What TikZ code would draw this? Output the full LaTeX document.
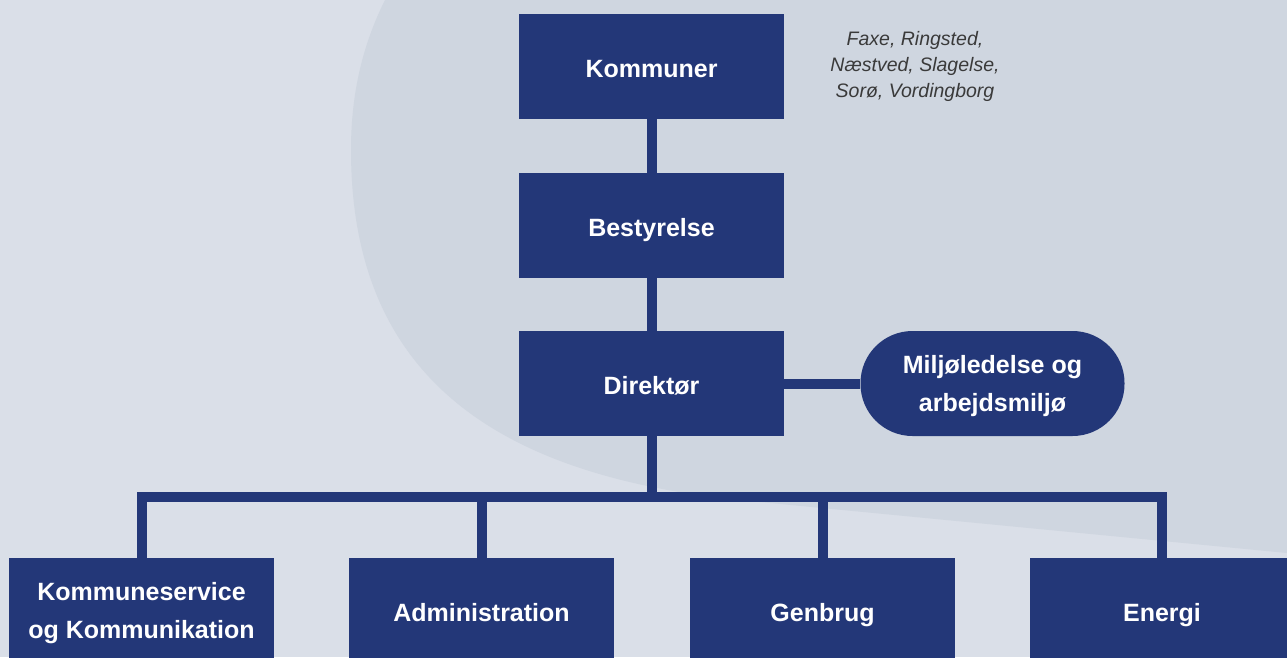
\documentclass[tikz,border=0pt]{standalone}
\usepackage{fontspec}
\setmainfont{Liberation Sans}

\definecolor{navy}{HTML}{233778}
\definecolor{bglight}{HTML}{DADFE8}
\definecolor{bgdark}{HTML}{CFD6E0}
\definecolor{notegray}{HTML}{3A3A3A}

\begin{document}
\begin{tikzpicture}[x=1pt, y=-1pt,
    unit/.style={fill=navy, text=white, font=\fontsize{25}{38}\selectfont\bfseries,
        align=center, minimum width=265pt, minimum height=105pt, inner sep=0pt,
        text height=21pt, text depth=0pt},
    twoline/.style={text height=, text depth=-3pt},
    pill/.style={unit, twoline, minimum width=264pt, rounded corners=52pt},
    link/.style={navy, line width=10pt}]

% Background
\useasboundingbox (0,0) rectangle (1287,657);
\clip (0,0) rectangle (1287,657);
\fill[bglight] (0,0) rectangle (1287,657);
\fill[bgdark] (385,0) .. controls (360,50) and (351,100) .. (351,150)
    .. controls (351,380) and (500,480) .. (760,502) -- (1287,553) -- (1287,0) -- cycle;

% Top of the chart
\node[unit] (kom) at (651.5,66.5) {Kommuner};
\node[unit] (bes) at (651.5,225.5) {Bestyrelse};
\node[unit] (dir) at (651.5,383.5) {Direktør};
\node[pill] (mil) at (992.5,383.5) {Miljøledelse og\\arbejdsmiljø};
\node[font=\fontsize{19.5}{26}\selectfont\itshape, text=notegray, align=center]
    (note) at (915,66) {Faxe, Ringsted,\\Næstved, Slagelse,\\Sorø, Vordingborg};

% Departments
\node[unit, twoline] (ksk) at (141.5,610.5) {Kommuneservice\\og Kommunikation};
\foreach \n/\x/\t in {adm/481.5/Administration, gen/822.5/Genbrug, ene/1162/Energi}
    \node[unit] (\n) at (\x,610.5) {\t};

% Connectors
\coordinate (bar) at (651.5,497);
\draw[link] (kom) -- (bes);
\draw[link] (bes) -- (dir);
\draw[link] (dir) -- (mil);
\draw[link] (dir) -- (bar);
\draw[link] (ksk.north) |- (bar) -| (ene.north);
\draw[link] (adm.north) -- (adm.north |- bar);
\draw[link] (gen.north) -- (gen.north |- bar);

\end{tikzpicture}
\end{document}
